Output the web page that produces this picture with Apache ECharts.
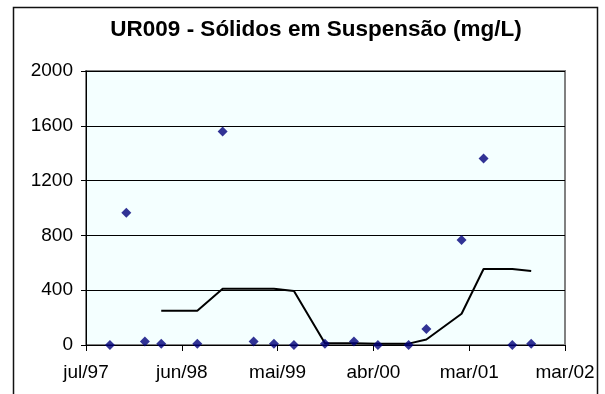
<!DOCTYPE html>
<html>
<head>
<meta charset="utf-8">
<script src="https://cdn.jsdelivr.net/npm/echarts@6/dist/echarts.min.js"></script>
<style>
  html, body { margin: 0; padding: 0; background: #ffffff; }
  #chart { width: 605px; height: 394px; }
</style>
</head>
<body>
<div id="chart"></div>
<script>
// Sampling dates at station UR009
const sampleDates = [
  '1997-09-29', '1997-11-26', '1998-01-31', '1998-03-30', '1998-08-05',
  '1998-11-03', '1999-02-21', '1999-05-04', '1999-07-14', '1999-11-01',
  '2000-02-12', '2000-05-07', '2000-08-24', '2000-10-26', '2001-02-28',
  '2001-05-17', '2001-08-27', '2001-11-02'
];
// Suspended solids (mg/L) measured on each date
const suspendedSolids = [
  0, 965, 25, 10, 10,
  1558, 25, 10, 0, 10,
  25, 0, 0, 116, 766,
  1362, 0, 10
];
// 4-period moving average trend (no value for the first three samples)
const movingAverage = [
  null, null, null, 250, 250,
  410, 410, 410, 395, 12,
  12, 10, 10, 40, 228,
  555, 555, 540
];
// Date axis: start date, step between ticks (days) and tick labels
const axisStartDate = '1997-07-06';
const tickStepDays = 340;
const xTickLabels = ['jul/97', 'jun/98', 'mai/99', 'abr/00', 'mar/01', 'mar/02'];
const yTickValues = [0, 400, 800, 1200, 1600, 2000];

function toUtc(s) {
  const p = s.split('-').map(Number);
  return Date.UTC(p[0], p[1] - 1, p[2]);
}
function daysFromStart(s) {
  return (toUtc(s) - toUtc(axisStartDate)) / 86400000;
}

const scatterData = sampleDates.map((d, i) => [daysFromStart(d), suspendedSolids[i]]);
const trendData = sampleDates
  .map((d, i) => [daysFromStart(d), movingAverage[i]])
  .filter(p => p[1] !== null);

const FONT = '"Liberation Sans", Arial, sans-serif';

const chart = echarts.init(document.getElementById('chart'), null, { renderer: 'canvas' });
chart.setOption({
  animation: false,
  backgroundColor: '#ffffff',
  title: {
    text: 'UR009 - Sólidos em Suspensão (mg/L)',
    left: 311,
    top: 13,
    textAlign: 'center',
    textStyle: { fontFamily: FONT, fontSize: 22.5, fontWeight: 'bold', color: '#000' }
  },
  graphic: [{
    type: 'rect',
    shape: { x: 13.5, y: 7.5, width: 584, height: 400 },
    style: { fill: 'none', stroke: '#111', lineWidth: 1.5 },
    silent: true,
    z: 100
  }],
  grid: {
    left: 86, top: 71, right: 40, bottom: 49,
    show: true,
    backgroundColor: '#F4FFFF',
    borderColor: '#808080',
    borderWidth: 2
  },
  xAxis: {
    type: 'value',
    min: 0,
    max: tickStepDays * (xTickLabels.length - 1),
    interval: tickStepDays,
    axisLine: { show: true, lineStyle: { color: '#000', width: 1 } },
    axisTick: { show: true, length: 6, lineStyle: { color: '#000' } },
    splitLine: { show: false },
    axisLabel: {
      margin: 18,
      fontFamily: FONT,
      fontSize: 19,
      color: '#000',
      formatter: v => xTickLabels[Math.round(v / tickStepDays)] || ''
    }
  },
  yAxis: {
    type: 'value',
    min: yTickValues[0],
    max: yTickValues[yTickValues.length - 1],
    interval: yTickValues[1] - yTickValues[0],
    axisLine: { show: true, lineStyle: { color: '#000', width: 1 } },
    axisTick: { show: true, length: 5, lineStyle: { color: '#000' } },
    splitLine: { show: true, lineStyle: { color: '#000', width: 1 } },
    axisLabel: {
      margin: 13, fontFamily: FONT, fontSize: 19, color: '#000',
      formatter: v => String(v)
    }
  },
  series: [
    {
      name: 'Média móvel',
      type: 'line',
      data: trendData,
      showSymbol: false,
      symbol: 'none',
      lineStyle: { color: '#000', width: 2 },
      z: 2
    },
    {
      name: 'Sólidos em suspensão',
      type: 'scatter',
      data: scatterData,
      symbol: 'diamond',
      symbolSize: 10,
      itemStyle: { color: '#00007A' },
      z: 3
    }
  ]
});
</script>
</body>
</html>
